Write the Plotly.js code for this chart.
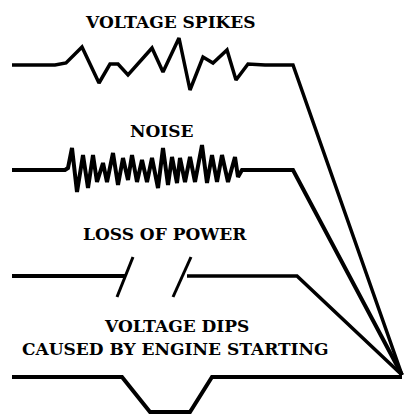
<!DOCTYPE html>
<html>
<head>
<meta charset="utf-8">
<script src="https://cdn.plot.ly/plotly-3.0.1.min.js"></script>
<style>html,body{margin:0;padding:0;background:#fff;}#chart{width:406px;height:416px;}</style>
</head>
<body>
<div id="chart"></div>
<script>
// Signal traces (diagram coordinates)
var spikesX = [12, 55, 66, 82, 99, 110, 118, 128, 152, 163, 179, 190, 203, 213, 227, 236, 248, 265, 293, 402];
var spikesY = [65, 65, 63, 47, 83, 64, 64, 75, 48, 72, 38, 90, 57, 63, 50, 80, 64, 65, 65, 375];

var noiseX = [12, 65, 68, 72, 77, 83, 88, 93, 97, 103, 107, 113, 118, 123, 128, 132, 137, 142, 147, 152, 158, 163, 168, 172, 177, 180, 185, 190, 195, 202, 207, 212, 217, 222, 228, 235, 238, 242, 293, 402];
var noiseY = [170, 170, 168, 148, 192, 155, 188, 155, 182, 163, 182, 153, 185, 158, 180, 155, 182, 160, 182, 158, 188, 148, 185, 157, 183, 158, 182, 157, 182, 145, 183, 155, 182, 155, 182, 157, 177, 170, 170, 375];

var lossLeftX = [12, 125];
var lossLeftY = [276, 276];
var lossSlash1X = [117, 133];
var lossSlash1Y = [297, 257];
var lossSlash2X = [173, 191];
var lossSlash2Y = [297, 257];
var lossRightX = [187, 297, 402];
var lossRightY = [276, 276, 375];

var dipsX = [12, 122, 150, 190, 212, 402];
var dipsY = [377, 377, 412, 412, 377, 377];

var labels = ["VOLTAGE SPIKES", "NOISE", "LOSS OF POWER", "VOLTAGE DIPS", "CAUSED BY ENGINE STARTING"];
var labelX = [170, 162, 165, 176, 175];
var labelY = [22, 131, 234, 326, 349];

function seg(x, y, w) {
  return {x: x, y: y, mode: 'lines', type: 'scatter', hoverinfo: 'skip',
          line: {color: '#000', width: w, shape: 'linear'}, showlegend: false};
}

var traces = [
  seg(spikesX, spikesY, 3.5),
  seg(noiseX, noiseY, 4),
  seg(lossLeftX, lossLeftY, 4),
  seg(lossSlash1X, lossSlash1Y, 3),
  seg(lossSlash2X, lossSlash2Y, 3),
  seg(lossRightX, lossRightY, 3.5),
  seg(dipsX, dipsY, 4)
];

var annotations = labels.map(function (t, i) {
  return {x: labelX[i], y: labelY[i], xref: 'x', yref: 'y', text: '<b>' + t + '</b>',
          showarrow: false, xanchor: 'center', yanchor: 'middle',
          font: {family: 'DejaVu Serif', size: 17, color: '#000'}};
});

var layout = {
  width: 406, height: 416,
  margin: {l: 0, r: 0, t: 0, b: 0},
  paper_bgcolor: '#fff', plot_bgcolor: '#fff',
  xaxis: {range: [0, 406], visible: false, fixedrange: true},
  yaxis: {range: [416, 0], visible: false, fixedrange: true},
  annotations: annotations,
  showlegend: false
};

Plotly.newPlot('chart', traces, layout, {displayModeBar: false, staticPlot: true});
</script>
</body>
</html>
